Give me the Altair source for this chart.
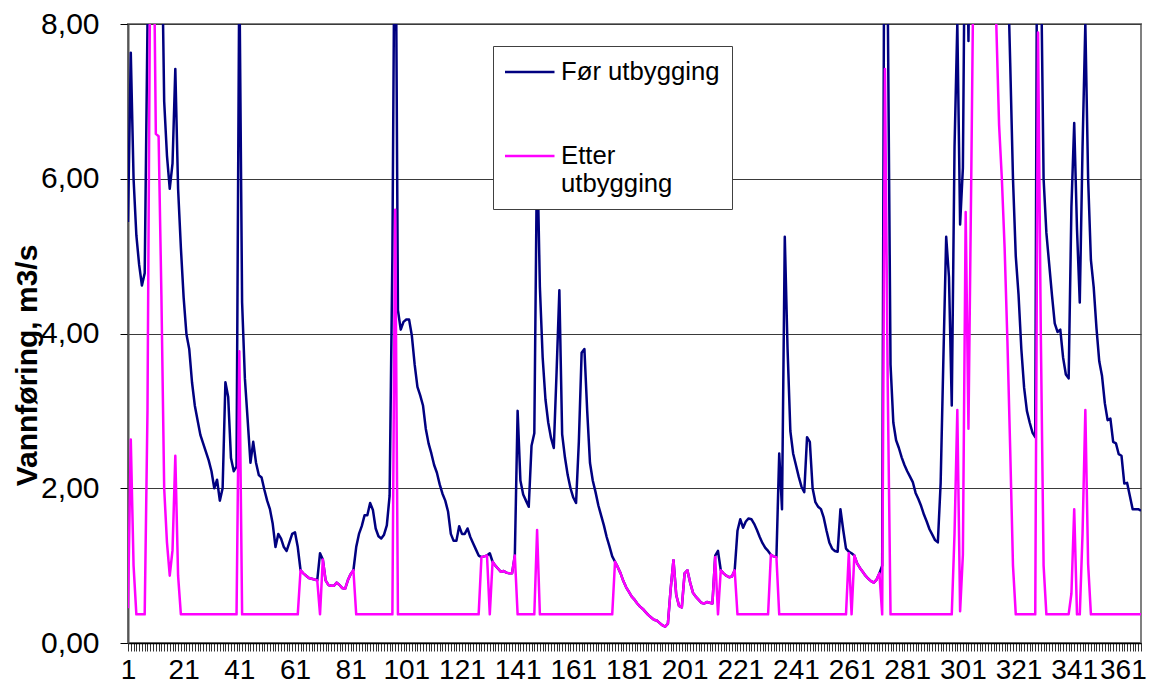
import altair as alt
import pandas as pd

days = list(range(1, 366))

series_names = ["Før utbygging", "Etter utbygging"]
series_colors = ["#000080", "#FF00FF"]

for_utbygging = [
    5.44, 7.63, 6.00, 5.27, 4.89, 4.62, 4.78, 8.00, 14.0, 15.0,
    11.58, 11.55, 9.50, 7.00, 6.30, 5.87, 6.20, 7.42, 5.87, 5.11,
    4.46, 3.99, 3.80, 3.37, 3.07, 2.88, 2.69, 2.58, 2.47, 2.36,
    2.22, 2.00, 2.11, 1.84, 2.00, 3.37, 3.18, 2.39, 2.22, 2.28,
    8.77, 4.40, 3.42, 2.88, 2.33, 2.60, 2.33, 2.17, 2.14, 1.98,
    1.84, 1.73, 1.54, 1.24, 1.41, 1.35, 1.24, 1.19, 1.30, 1.41,
    1.43, 1.24, 0.94, 0.90, 0.87, 0.84, 0.83, 0.82, 0.81, 1.16,
    1.08, 0.81, 0.75, 0.74, 0.74, 0.78, 0.75, 0.71, 0.70, 0.81,
    0.89, 0.94, 1.24, 1.41, 1.51, 1.65, 1.65, 1.81, 1.72, 1.48,
    1.38, 1.35, 1.40, 1.52, 1.90, 5.00, 10.6, 4.30, 4.05, 4.15,
    4.18, 4.18, 3.97, 3.60, 3.31, 3.20, 3.07, 2.77, 2.58, 2.45,
    2.30, 2.20, 2.05, 1.93, 1.84, 1.70, 1.41, 1.32, 1.32, 1.51,
    1.41, 1.41, 1.48, 1.37, 1.29, 1.21, 1.13, 1.11, 1.12, 1.13,
    1.16, 1.05, 1.00, 0.96, 0.92, 0.93, 0.91, 0.90, 0.90, 1.13,
    3.00, 2.10, 1.92, 1.84, 1.76, 2.55, 2.71, 6.46, 4.60, 3.69,
    3.15, 2.85, 2.65, 2.52, 3.50, 4.56, 2.70, 2.40, 2.17, 2.00,
    1.88, 1.81, 2.60, 3.75, 3.80, 3.00, 2.33, 2.10, 1.95, 1.78,
    1.65, 1.52, 1.37, 1.25, 1.12, 1.05, 0.98, 0.90, 0.80, 0.72,
    0.66, 0.60, 0.56, 0.51, 0.47, 0.44, 0.40, 0.36, 0.33, 0.30,
    0.29, 0.26, 0.23, 0.21, 0.25, 0.70, 1.07, 0.62, 0.48, 0.46,
    0.90, 0.94, 0.78, 0.65, 0.60, 0.56, 0.52, 0.51, 0.53, 0.52,
    0.51, 1.13, 1.19, 0.94, 0.90, 0.87, 0.85, 0.86, 0.94, 1.45,
    1.60, 1.49, 1.57, 1.61, 1.60, 1.54, 1.46, 1.37, 1.29, 1.23,
    1.19, 1.14, 1.12, 1.11, 2.45, 1.73, 5.25, 3.80, 2.74, 2.45,
    2.30, 2.15, 2.02, 1.95, 2.66, 2.60, 2.00, 1.82, 1.76, 1.73,
    1.62, 1.45, 1.30, 1.22, 1.19, 1.18, 1.73, 1.46, 1.22, 1.18,
    1.16, 1.13, 1.03, 0.97, 0.92, 0.87, 0.83, 0.80, 0.78, 0.82,
    0.90, 1.00, 12.4, 8.30, 3.60, 2.85, 2.62, 2.52, 2.40, 2.30,
    2.22, 2.15, 2.08, 1.94, 1.86, 1.77, 1.66, 1.57, 1.47, 1.40,
    1.33, 1.30, 2.06, 3.69, 5.25, 4.73, 3.07, 6.42, 8.01, 5.41,
    6.14, 10.57, 7.78, 11.0, 14.5, 17.0, 19.0, 18.0, 17.0, 16.0,
    15.0, 14.0, 13.0, 11.7, 11.0, 10.1, 8.90, 7.50, 6.00, 5.00,
    4.50, 3.80, 3.30, 3.00, 2.85, 2.72, 2.66, 12.9, 9.00, 6.00,
    5.30, 4.90, 4.50, 4.13, 4.02, 4.05, 3.69, 3.47, 3.42, 5.64,
    6.72, 5.35, 4.40, 6.42, 8.01, 6.00, 4.95, 4.60, 4.07, 3.64,
    3.45, 3.10, 2.88, 2.90, 2.60, 2.58, 2.44, 2.42, 2.06, 2.07,
    1.90, 1.73, 1.73, 1.73, 1.71,
]

etter_utbygging = [
    0.45, 2.63, 1.00, 0.37, 0.37, 0.37, 0.37, 3.00, 9.00, 10.0,
    6.58, 6.55, 4.50, 2.00, 1.30, 0.87, 1.20, 2.42, 0.87, 0.37,
    0.37, 0.37, 0.37, 0.37, 0.37, 0.37, 0.37, 0.37, 0.37, 0.37,
    0.37, 0.37, 0.37, 0.37, 0.37, 0.37, 0.37, 0.37, 0.37, 0.37,
    3.77, 0.37, 0.37, 0.37, 0.37, 0.37, 0.37, 0.37, 0.37, 0.37,
    0.37, 0.37, 0.37, 0.37, 0.37, 0.37, 0.37, 0.37, 0.37, 0.37,
    0.37, 0.37, 0.94, 0.90, 0.87, 0.84, 0.83, 0.82, 0.81, 0.37,
    1.08, 0.81, 0.75, 0.74, 0.74, 0.78, 0.75, 0.71, 0.70, 0.81,
    0.89, 0.94, 0.37, 0.37, 0.37, 0.37, 0.37, 0.37, 0.37, 0.37,
    0.37, 0.37, 0.37, 0.37, 0.37, 0.37, 5.60, 0.37, 0.37, 0.37,
    0.37, 0.37, 0.37, 0.37, 0.37, 0.37, 0.37, 0.37, 0.37, 0.37,
    0.37, 0.37, 0.37, 0.37, 0.37, 0.37, 0.37, 0.37, 0.37, 0.37,
    0.37, 0.37, 0.37, 0.37, 0.37, 0.37, 0.37, 1.11, 1.12, 1.13,
    0.37, 1.05, 1.00, 0.96, 0.92, 0.93, 0.91, 0.90, 0.90, 1.13,
    0.37, 0.37, 0.37, 0.37, 0.37, 0.37, 0.37, 1.46, 0.37, 0.37,
    0.37, 0.37, 0.37, 0.37, 0.37, 0.37, 0.37, 0.37, 0.37, 0.37,
    0.37, 0.37, 0.37, 0.37, 0.37, 0.37, 0.37, 0.37, 0.37, 0.37,
    0.37, 0.37, 0.37, 0.37, 0.37, 1.05, 0.98, 0.90, 0.80, 0.72,
    0.66, 0.60, 0.56, 0.51, 0.47, 0.44, 0.40, 0.36, 0.33, 0.30,
    0.29, 0.26, 0.23, 0.21, 0.25, 0.70, 1.07, 0.62, 0.48, 0.46,
    0.90, 0.94, 0.78, 0.65, 0.60, 0.56, 0.52, 0.51, 0.53, 0.52,
    0.51, 1.11, 0.37, 0.94, 0.90, 0.87, 0.85, 0.86, 0.94, 0.37,
    0.37, 0.37, 0.37, 0.37, 0.37, 0.37, 0.37, 0.37, 0.37, 0.37,
    0.37, 1.14, 1.12, 1.11, 0.37, 0.37, 0.37, 0.37, 0.37, 0.37,
    0.37, 0.37, 0.37, 0.37, 0.37, 0.37, 0.37, 0.37, 0.37, 0.37,
    0.37, 0.37, 0.37, 0.37, 0.37, 0.37, 0.37, 0.37, 0.37, 1.16,
    0.37, 1.13, 1.03, 0.97, 0.92, 0.87, 0.83, 0.80, 0.78, 0.82,
    0.90, 0.37, 7.42, 3.30, 0.37, 0.37, 0.37, 0.37, 0.37, 0.37,
    0.37, 0.37, 0.37, 0.37, 0.37, 0.37, 0.37, 0.37, 0.37, 0.37,
    0.37, 0.37, 0.37, 0.37, 0.37, 0.37, 0.37, 1.42, 3.01, 0.41,
    1.14, 5.57, 2.77, 6.00, 9.50, 12.0, 14.0, 13.0, 12.0, 11.0,
    10.0, 9.00, 8.00, 6.70, 6.00, 5.10, 3.90, 2.50, 1.00, 0.37,
    0.37, 0.37, 0.37, 0.37, 0.37, 0.37, 0.37, 7.89, 4.00, 1.00,
    0.37, 0.37, 0.37, 0.37, 0.37, 0.37, 0.37, 0.37, 0.37, 0.64,
    1.73, 0.37, 0.37, 1.42, 3.01, 1.02, 0.37, 0.37, 0.37, 0.37,
    0.37, 0.37, 0.37, 0.37, 0.37, 0.37, 0.37, 0.37, 0.37, 0.37,
    0.37, 0.37, 0.37, 0.37, 0.37,
]

y_tick_values = [0, 2, 4, 6, 8]

df = pd.DataFrame({
    "dag": days + days,
    "vannforing": for_utbygging + etter_utbygging,
    "serie": [series_names[0]] * len(days) + [series_names[1]] * len(days),
})

FONT = "Liberation Sans"

color = alt.Color(
    "serie:N",
    scale=alt.Scale(domain=series_names, range=series_colors),
    legend=alt.Legend(
        title=None,
        orient="none",
        legendX=365,
        legendY=22,
        symbolType="stroke",
        symbolSize=2704,
        symbolStrokeWidth=2.5,
        symbolOffset=-4,
        clipHeight=28,
        labelFont=FONT,
        labelFontSize=25.7,
        labelColor="black",
        labelLimit=400,
        labelOffset=5,
        labelExpr="datum.label == 'Etter utbygging' ? ['Etter', 'utbygging'] : datum.label",
        padding=12,
        rowPadding=56,
        strokeColor="#404040",
        fillColor="white",
    ),
)

x = alt.X(
    "dag:Q",
    scale=alt.Scale(domain=[1, 365], nice=False, zero=False),
    axis=alt.Axis(
        values=days,
        labelExpr="(datum.value - 1) % 20 === 0 ? '' + datum.value : ''",
        labelOverlap=False,
        labelFlush=False,
        labelBound=False,
        labelFont=FONT,
        labelFontSize=28,
        labelColor="black",
        labelPadding=5,
        labelOffset={"condition": {"test": "datum.value === 361", "value": -7}, "value": 0},
        tickSize=8,
        tickColor="#333333",
        tickWidth=1,
        domainColor="#000000",
        domainWidth=1.5,
        grid=False,
    ),
    title=None,
)

y = alt.Y(
    "vannforing:Q",
    scale=alt.Scale(domain=[0, 8], nice=False, zero=True),
    axis=alt.Axis(
        values=y_tick_values,
        labelExpr="replace(format(datum.value, '.2f'), '.', ',')",
        labelFont=FONT,
        labelFontSize=30,
        labelColor="black",
        labelPadding=21,
        tickSize=8,
        tickColor="#000000",
        tickWidth=1,
        domainColor="#555555",
        domainWidth=2,
        grid=True,
        gridColor="#3a3a3a",
        gridWidth=1,
        title="Vannføring, m3/s",
        titleFont=FONT,
        titleFontSize=30,
        titleFontWeight="bold",
        titleColor="black",
        titleAngle=270,
        titleX=-92,
        titleY=341,
        titleAlign="center",
        titleBaseline="alphabetic",
    ),
)

base = alt.Chart(df).encode(x=x, y=y, color=color)

line_for = base.transform_filter(
    alt.datum.serie == series_names[0]
).mark_line(clip=True, strokeWidth=2.5, strokeJoin="round")

line_etter = base.transform_filter(
    alt.datum.serie == series_names[1]
).mark_line(clip=True, strokeWidth=2.5, strokeJoin="round")

chart = (
    alt.layer(line_for, line_etter)
    .properties(
        width=1013,
        height=619,
        autosize=alt.AutoSizeParams(type="none"),
        padding={"left": 120, "top": 16, "right": 7, "bottom": 42},
        background="white",
    )
    .configure_view(stroke="#808080", strokeWidth=2)
)

chart.save("out.html", embed_options={"renderer": "svg", "actions": False})
